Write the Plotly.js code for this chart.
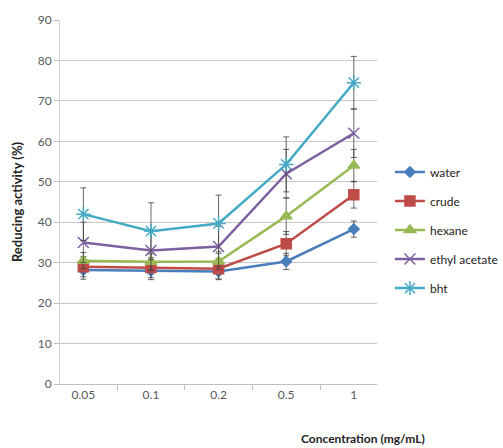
<!DOCTYPE html>
<html><head><meta charset="utf-8">
<script src="https://cdn.plot.ly/plotly-3.0.1.min.js"></script>
<style>html,body{margin:0;padding:0;background:#fff}#c{width:503px;height:448px}</style>
</head><body><div id="c"></div>
<script>
var categories = ["0.05", "0.1", "0.2", "0.5", "1"];
var water = [28.2, 28.0, 27.8, 30.3, 38.3];
var waterErr = [2.3, 2.2, 2.0, 2.0, 2.0];
var crude = [29.0, 28.8, 28.5, 34.7, 46.8];
var crudeErr = [2.5, 2.5, 2.5, 3.0, 3.3];
var hexane = [30.5, 30.2, 30.3, 41.5, 54.0];
var hexaneErr = [2.0, 2.0, 2.0, 4.5, 4.0];
var ethyl = [35.0, 33.0, 34.0, 52.0, 62.0];
var ethylErr = [5.0, 5.0, 5.0, 6.0, 6.0];
var bht = [42.0, 37.8, 39.7, 54.3, 74.5];
var bhtErr = [6.5, 7.0, 7.0, 6.8, 6.5];

var names = ["water", "crude", "hexane", "ethyl acetate", "bht"];
var vals = [water, crude, hexane, ethyl, bht];
var errs = [waterErr, crudeErr, hexaneErr, ethylErr, bhtErr];
var colors = ["#4A7EBB", "#BE4B48", "#98B954", "#7D60A0", "#46AAC5"];
var symbols = ["diamond", "square", "triangle-up", "x-thin-open", "asterisk-open"];
var sizes = [8, 10, 10, 11, 12];

var traces = names.map(function (n, i) {
  return {
    type: "scatter", mode: "lines+markers", name: n, x: categories, y: vals[i],
    legendgroup: "g" + i,
    line: {color: colors[i], width: 2.5},
    marker: {symbol: symbols[i], size: sizes[i], color: colors[i], line: {color: colors[i], width: 1.5}},
    error_y: {type: "data", array: errs[i], visible: true, color: "#404040", thickness: 0.8, width: 3}
  };
});

var W = 503, ML = 60, MR = 0, PLOT_W = 323;
var paperW = W - ML - MR;
function px(p) { return (p - ML) / paperW; }

var layout = {
  width: W, height: 448,
  margin: {l: ML, r: MR, t: 20, b: 64},
  paper_bgcolor: "#fff", plot_bgcolor: "#fff",
  font: {family: "Lato, 'Open Sans', sans-serif", color: "#595959", size: 12},
  showlegend: true,
  legend: {x: px(396), xanchor: "left", y: 0.622, yanchor: "top", tracegroupgap: 10,
    font: {size: 12, color: "#222"}, bgcolor: "rgba(0,0,0,0)", itemwidth: 30},
  xaxis: {type: "category", domain: [0, PLOT_W / paperW], tickson: "boundaries", ticks: "outside", ticklen: 5,
    tickcolor: "#bfbfbf", showline: true, linecolor: "#bfbfbf", linewidth: 1,
    showgrid: false, zeroline: false, tickfont: {size: 12, color: "#595959"}},
  yaxis: {range: [0, 90], dtick: 10, ticks: "outside", ticklen: 5, tickcolor: "#bfbfbf",
    showline: true, linecolor: "#d0d0d0", gridcolor: "#c8c8c8", gridwidth: 1,
    zeroline: false, tickfont: {size: 12, color: "#595959"},
    title: {text: "<b>Reducing activity (%)</b>", font: {size: 13, color: "#222"}, standoff: 12}},
  annotations: [{xref: "paper", yref: "paper", x: px(369), y: -0.15, xanchor: "center", yanchor: "middle",
    text: "<b>Concentration (mg/mL)</b>", showarrow: false, font: {size: 12, color: "#222"}}]
};
Plotly.newPlot("c", traces, layout, {displayModeBar: false});
</script></body></html>
